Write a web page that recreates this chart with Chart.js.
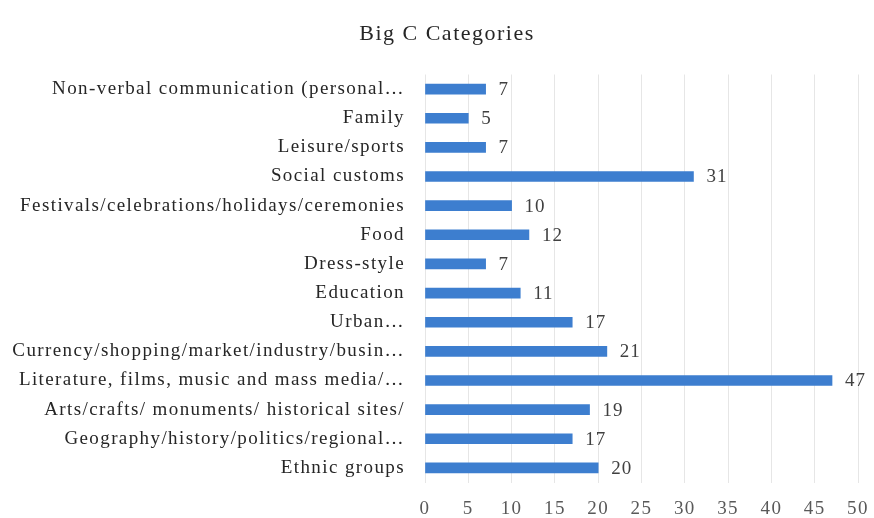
<!DOCTYPE html>
<html><head><meta charset="utf-8">
<script src="https://cdn.jsdelivr.net/npm/chart.js@4/dist/chart.umd.min.js"></script>
<style>html,body{margin:0;padding:0;background:#fff;}#wrap{width:874px;height:518px;}</style>
</head><body><div id="wrap"><canvas id="c" width="874" height="518"></canvas></div>
<script>
const categories = [
  "Non-verbal communication (personal…",
  "Family",
  "Leisure/sports",
  "Social customs",
  "Festivals/celebrations/holidays/ceremonies",
  "Food",
  "Dress-style",
  "Education",
  "Urban…",
  "Currency/shopping/market/industry/busin…",
  "Literature, films, music and mass media/…",
  "Arts/crafts/ monuments/ historical sites/",
  "Geography/history/politics/regional…",
  "Ethnic groups"
];
const values = [7, 5, 7, 31, 10, 12, 7, 11, 17, 21, 47, 19, 17, 20];
const xTicks = [0, 5, 10, 15, 20, 25, 30, 35, 40, 45, 50];
const title = "Big C Categories";

const FONT = "'Liberation Serif', 'DejaVu Serif', serif";

const spacing = {
  id: 'spacing',
  beforeDraw(chart) { chart.ctx.letterSpacing = '1.4px'; }
};

const titlePlugin = {
  id: 'titlePlugin',
  afterDraw(chart) {
    const ctx = chart.ctx;
    ctx.save();
    ctx.letterSpacing = '1.5px';
    ctx.font = "22px " + FONT;
    ctx.fillStyle = "#262626";
    ctx.textAlign = "center";
    ctx.textBaseline = "middle";
    ctx.fillText(title, 447, 34);
    ctx.restore();
  }
};

const valueLabels = {
  id: 'valueLabels',
  afterDatasetsDraw(chart) {
    const ctx = chart.ctx;
    const meta = chart.getDatasetMeta(0);
    ctx.save();
    ctx.letterSpacing = '1px';
    ctx.font = "19px " + FONT;
    ctx.fillStyle = "#404040";
    ctx.textBaseline = "middle";
    ctx.textAlign = "left";
    meta.data.forEach((bar, i) => {
      ctx.fillText(String(values[i]), bar.x + 13, bar.y + 1);
    });
    ctx.restore();
  }
};

new Chart(document.getElementById('c'), {
  type: 'bar',
  data: {
    labels: categories,
    datasets: [{
      data: values,
      backgroundColor: '#3d7ecf',
      borderWidth: 0,
      barThickness: 10
    }]
  },
  options: {
    indexAxis: 'y',
    responsive: false,
    animation: false,
    devicePixelRatio: 1,
    layout: { padding: { left: 0, right: 16, top: 74.5, bottom: 0 } },
    plugins: {
      legend: { display: false },
      tooltip: { enabled: false },
      title: { display: false }
    },
    scales: {
      x: {
        min: 0, max: 50,
        afterBuildTicks(axis) { axis.ticks = xTicks.map(v => ({ value: v })); },
        afterFit(axis) { axis.height = 35.5; axis.paddingLeft = 0; axis.paddingRight = 0; },
        grid: { color: '#e6e6e6', drawTicks: false },
        border: { display: false },
        ticks: { color: '#595959', font: { family: FONT, size: 19, lineHeight: 1.2 }, padding: 15, maxRotation: 0 }
      },
      y: {
        afterFit(axis) { axis.width = 425; axis.paddingTop = 0; axis.paddingBottom = 0; },
        grid: { display: false, drawTicks: false },
        border: { display: false },
        ticks: { color: '#262626', font: { family: FONT, size: 19 }, padding: 20, autoSkip: false }
      }
    }
  },
  plugins: [spacing, valueLabels, titlePlugin]
});
</script></body></html>
